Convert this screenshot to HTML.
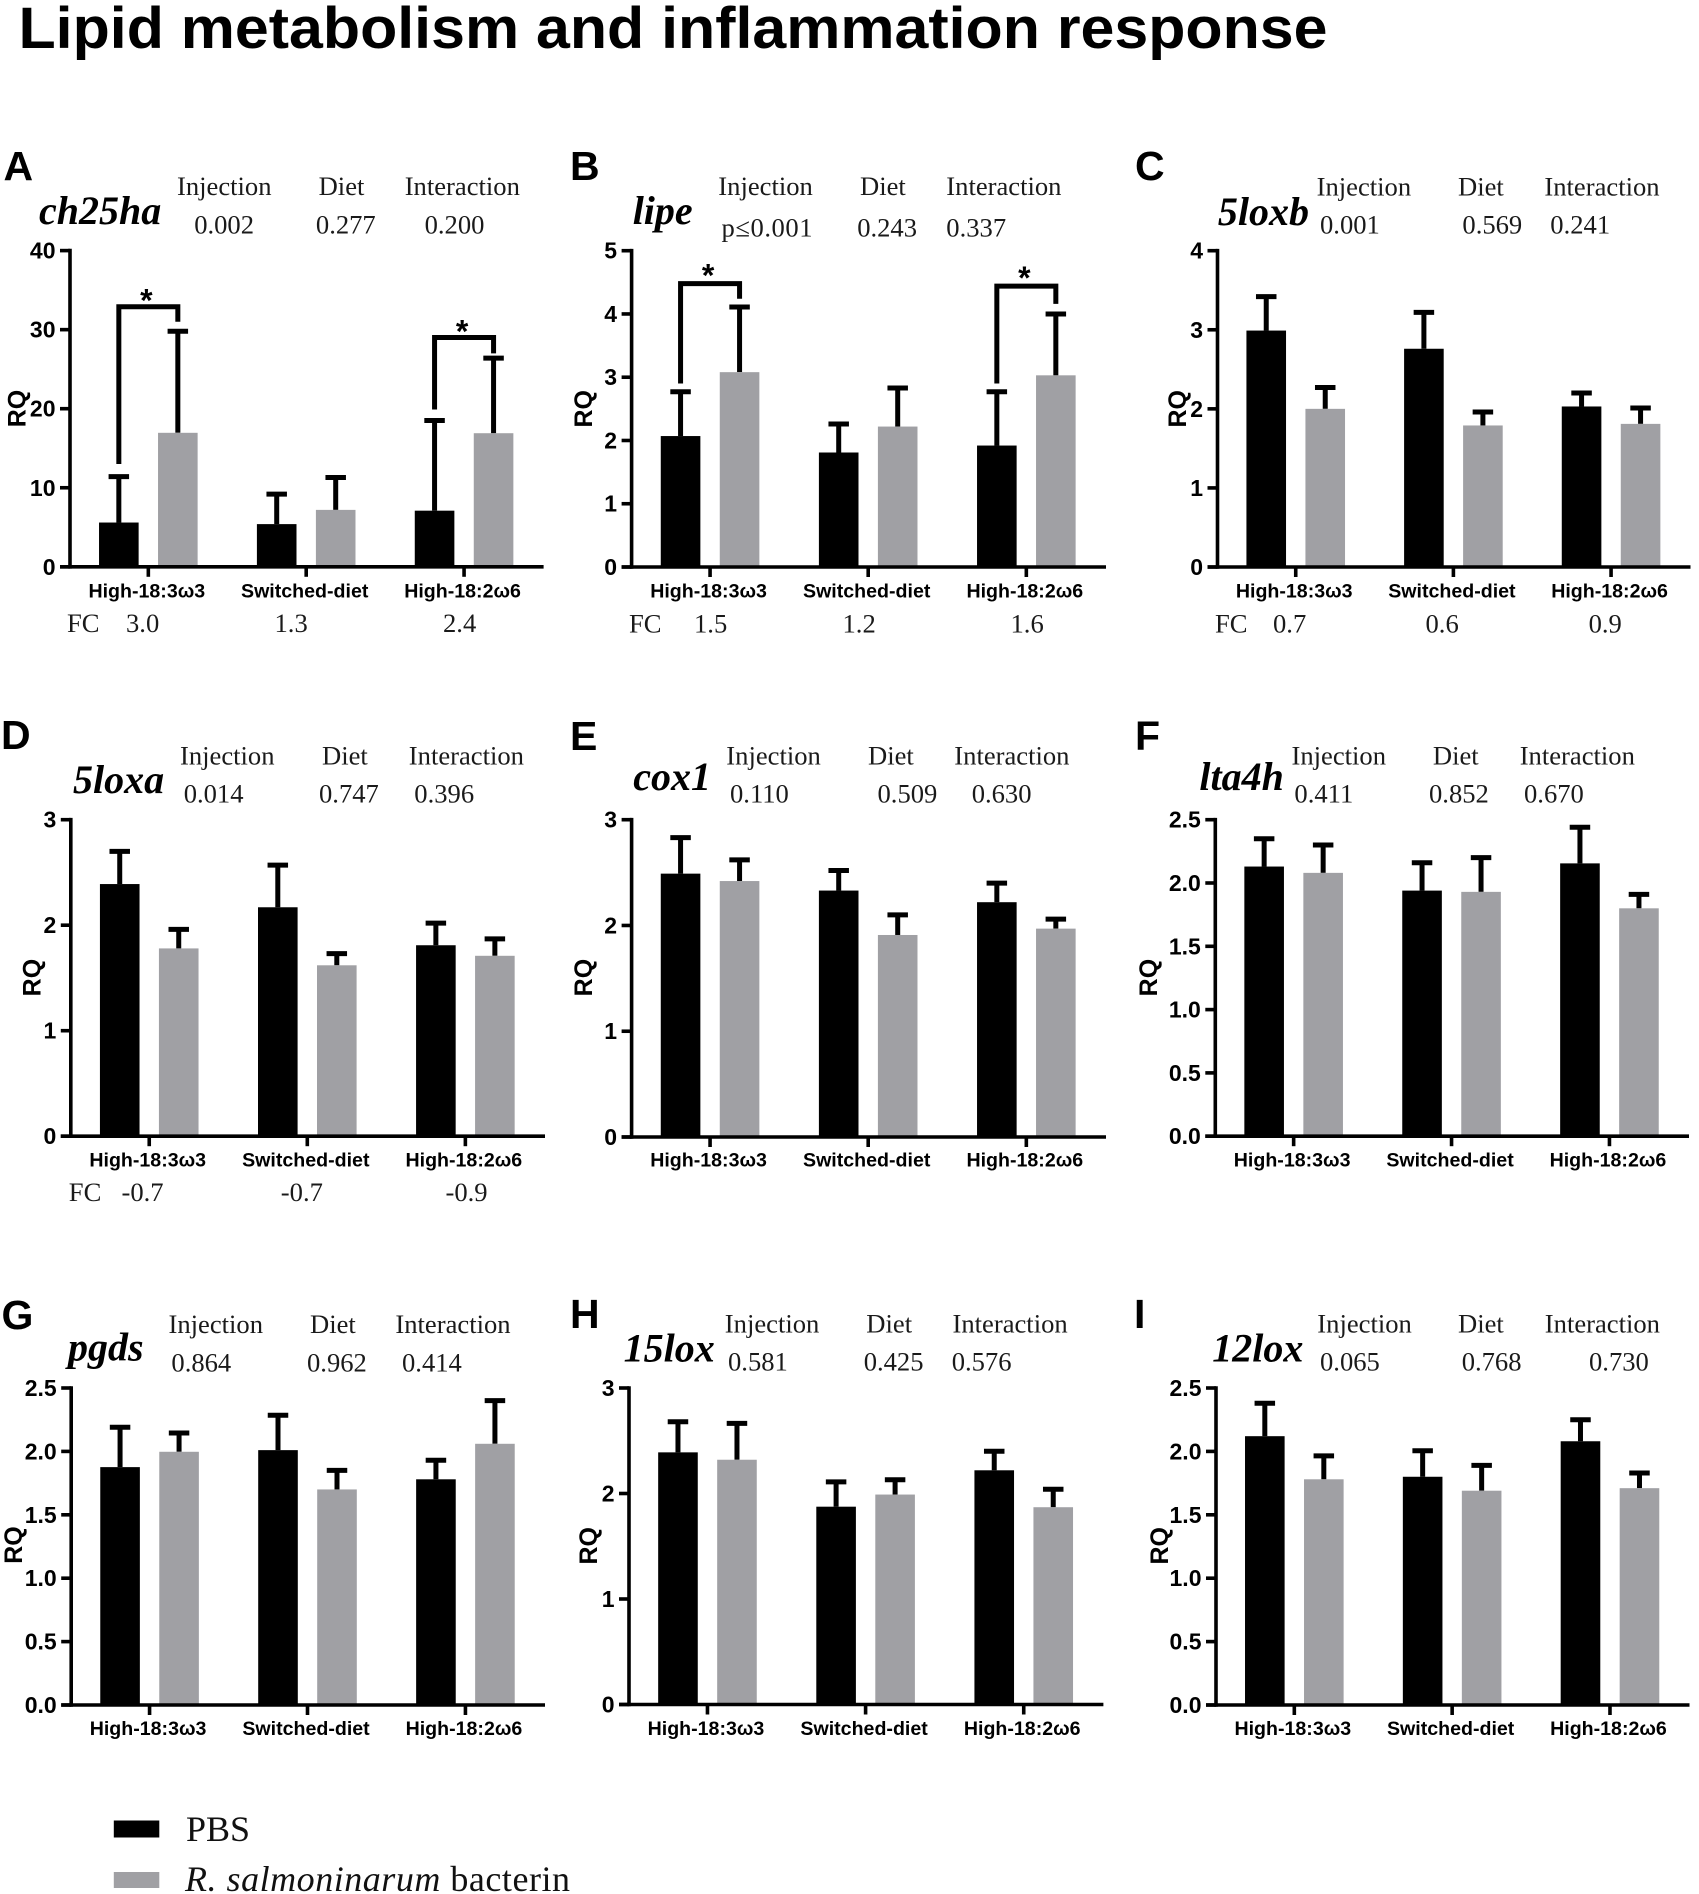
<!DOCTYPE html>
<html lang="en">
<head>
<meta charset="utf-8">
<title>Lipid metabolism and inflammation response</title>
<style>
  html, body { margin: 0; padding: 0; background: #fff; }
  svg { display: block; }
  .title { font: bold 58.5px "Liberation Sans", sans-serif; fill: #000; }
  .letter { font: bold 41px "Liberation Sans", sans-serif; fill: #000; }
  .gene { font: italic bold 40px "Liberation Serif", serif; fill: #000; }
  .stat { font: 26.6px "Liberation Serif", serif; fill: #1a1a1a; transform: translateX(-1px); }
  .tick { font: bold 23px "Liberation Sans", sans-serif; fill: #000; text-anchor: end; }
  .cat { font: bold 19.6px "Liberation Sans", "DejaVu Sans", sans-serif; fill: #000; text-anchor: middle; }
  .rq { font: bold 25px "Liberation Sans", sans-serif; fill: #000; text-anchor: middle; }
  .star { font: bold 32px "Liberation Sans", sans-serif; fill: #000; text-anchor: middle; }
  .legend { font: 36px "Liberation Serif", serif; fill: #111; }
</style>
</head>
<body>
<svg id="figure" xmlns="http://www.w3.org/2000/svg" width="1699" height="1894" viewBox="0 0 1699 1894">
  <rect width="1699" height="1894" fill="#fff"/>
  <text class="title" x="18.5" y="48" textLength="1309" lengthAdjust="spacingAndGlyphs">Lipid metabolism and inflammation response</text>

  <!-- Panel A -->
  <text class="letter" x="3.5" y="180">A</text>
  <text class="gene" x="39" y="224">ch25ha</text>
  <text class="stat" x="178" y="195">Injection</text>
  <text class="stat" x="319.6" y="195">Diet</text>
  <text class="stat" x="405.7" y="195">Interaction</text>
  <text class="stat" x="195.2" y="233.3">0.002</text>
  <text class="stat" x="316.9" y="233.3">0.277</text>
  <text class="stat" x="425.6" y="233.3">0.200</text>
  <text class="stat" x="68" y="632">FC</text>
  <text class="stat" x="127" y="632">3.0</text>
  <text class="stat" x="275.5" y="632">1.3</text>
  <text class="stat" x="444" y="632">2.4</text>

  <!-- Panel B -->
  <text class="letter" x="570" y="180">B</text>
  <text class="gene" x="632.7" y="224">lipe</text>
  <text class="stat" x="719.3" y="195">Injection</text>
  <text class="stat" x="861" y="195">Diet</text>
  <text class="stat" x="947.3" y="195">Interaction</text>
  <text class="stat" x="722.5" y="236.5" textLength="91">p≤0.001</text>
  <text class="stat" x="858.2" y="236.5">0.243</text>
  <text class="stat" x="947.3" y="236.5">0.337</text>
  <text class="stat" x="630" y="632.4">FC</text>
  <text class="stat" x="695" y="632.4">1.5</text>
  <text class="stat" x="843.5" y="632.4">1.2</text>
  <text class="stat" x="1011.5" y="632.4">1.6</text>

  <!-- Panel C -->
  <text class="letter" x="1135" y="180">C</text>
  <text class="gene" x="1217.9" y="224.8">5loxb</text>
  <text class="stat" x="1317.6" y="195.5">Injection</text>
  <text class="stat" x="1459" y="195.5">Diet</text>
  <text class="stat" x="1545.4" y="195.5">Interaction</text>
  <text class="stat" x="1321" y="233.4">0.001</text>
  <text class="stat" x="1463.4" y="233.4">0.569</text>
  <text class="stat" x="1551.3" y="233.4">0.241</text>
  <text class="stat" x="1216" y="632.4">FC</text>
  <text class="stat" x="1274" y="632.4">0.7</text>
  <text class="stat" x="1426.5" y="632.4">0.6</text>
  <text class="stat" x="1589.6" y="632.4">0.9</text>

  <!-- Panel D -->
  <text class="letter" x="1" y="749">D</text>
  <text class="gene" x="73" y="793">5loxa</text>
  <text class="stat" x="181" y="764.5">Injection</text>
  <text class="stat" x="323" y="764.5">Diet</text>
  <text class="stat" x="409.8" y="764.5">Interaction</text>
  <text class="stat" x="184.7" y="802.4">0.014</text>
  <text class="stat" x="320" y="802.4">0.747</text>
  <text class="stat" x="415.3" y="802.4">0.396</text>
  <text class="stat" x="69.8" y="1201">FC</text>
  <text class="stat" x="122.5" y="1201">-0.7</text>
  <text class="stat" x="281.8" y="1201">-0.7</text>
  <text class="stat" x="446.5" y="1201">-0.9</text>

  <!-- Panel E -->
  <text class="letter" x="570" y="750">E</text>
  <text class="gene" x="633.2" y="790">cox1</text>
  <text class="stat" x="727.3" y="764.5">Injection</text>
  <text class="stat" x="869" y="764.5">Diet</text>
  <text class="stat" x="955.3" y="764.5">Interaction</text>
  <text class="stat" x="731" y="802.4">0.110</text>
  <text class="stat" x="878.5" y="802.4">0.509</text>
  <text class="stat" x="972.7" y="802.4">0.630</text>

  <!-- Panel F -->
  <text class="letter" x="1135" y="750">F</text>
  <text class="gene" x="1199.4" y="790">lta4h</text>
  <text class="stat" x="1292.5" y="764.5">Injection</text>
  <text class="stat" x="1433.9" y="764.5">Diet</text>
  <text class="stat" x="1520.7" y="764.5">Interaction</text>
  <text class="stat" x="1295.4" y="802.4">0.411</text>
  <text class="stat" x="1430" y="802.4">0.852</text>
  <text class="stat" x="1525" y="802.4">0.670</text>

  <!-- Panel G -->
  <text class="letter" x="1.5" y="1329">G</text>
  <text class="gene" x="68" y="1360.4">pgds</text>
  <text class="stat" x="169.5" y="1333">Injection</text>
  <text class="stat" x="311" y="1333">Diet</text>
  <text class="stat" x="396.4" y="1333">Interaction</text>
  <text class="stat" x="172.4" y="1371.4">0.864</text>
  <text class="stat" x="308" y="1371.4">0.962</text>
  <text class="stat" x="403" y="1371.4">0.414</text>

  <!-- Panel H -->
  <text class="letter" x="570" y="1328">H</text>
  <text class="gene" x="623.6" y="1361.7">15lox</text>
  <text class="stat" x="725.8" y="1332.3">Injection</text>
  <text class="stat" x="867.3" y="1332.3">Diet</text>
  <text class="stat" x="953.5" y="1332.3">Interaction</text>
  <text class="stat" x="729" y="1370.7">0.581</text>
  <text class="stat" x="864.7" y="1370.7">0.425</text>
  <text class="stat" x="952.7" y="1370.7">0.576</text>

  <!-- Panel I -->
  <text class="letter" x="1134" y="1328">I</text>
  <text class="gene" x="1212.3" y="1361.7">12lox</text>
  <text class="stat" x="1318.3" y="1332.3">Injection</text>
  <text class="stat" x="1459" y="1332.3">Diet</text>
  <text class="stat" x="1545.8" y="1332.3">Interaction</text>
  <text class="stat" x="1321" y="1370.7">0.065</text>
  <text class="stat" x="1462.7" y="1370.7">0.768</text>
  <text class="stat" x="1590" y="1370.7">0.730</text>

  <!-- Legend -->
  <rect x="113.8" y="1820.5" width="45.5" height="17" fill="#000"/>
  <text class="legend" x="186" y="1841">PBS</text>
  <rect x="113.8" y="1872" width="45.5" height="16" fill="#a0a0a4"/>
  <text class="legend" x="185" y="1891" textLength="385"><tspan font-style="italic">R. salmoninarum</tspan> bacterin</text>
</svg>

<script>
const categories = ['High-18:3ω3', 'Switched-diet', 'High-18:2ω6'];

const ticksA = [0, 10, 20, 30, 40];
const ticksB = [0, 1, 2, 3, 4, 5];
const ticksC = [0, 1, 2, 3, 4];
const ticksD = [0, 1, 2, 3];
const ticksE = [0, 1, 2, 3];
const ticksF = [0, 0.5, 1.0, 1.5, 2.0, 2.5];
const ticksG = [0, 0.5, 1.0, 1.5, 2.0, 2.5];
const ticksH = [0, 1, 2, 3];
const ticksI = [0, 0.5, 1.0, 1.5, 2.0, 2.5];

const pbsA = [5.6, 5.4, 7.1];
const pbsErrA = [11.4, 9.2, 18.5];
const bacterinA = [16.95, 7.2, 16.9];
const bacterinErrA = [29.8, 11.3, 26.4];

const pbsB = [2.07, 1.81, 1.92];
const pbsErrB = [2.77, 2.26, 2.77];
const bacterinB = [3.08, 2.22, 3.03];
const bacterinErrB = [4.11, 2.83, 4.0];

const pbsC = [2.99, 2.76, 2.03];
const pbsErrC = [3.42, 3.22, 2.2];
const bacterinC = [2.0, 1.79, 1.81];
const bacterinErrC = [2.27, 1.96, 2.01];

const pbsD = [2.39, 2.17, 1.81];
const pbsErrD = [2.7, 2.57, 2.02];
const bacterinD = [1.78, 1.62, 1.71];
const bacterinErrD = [1.96, 1.73, 1.87];

const pbsE = [2.49, 2.33, 2.22];
const pbsErrE = [2.83, 2.52, 2.4];
const bacterinE = [2.42, 1.91, 1.97];
const bacterinErrE = [2.62, 2.1, 2.06];

const pbsF = [2.13, 1.94, 2.155];
const pbsErrF = [2.35, 2.16, 2.44];
const bacterinF = [2.08, 1.93, 1.8];
const bacterinErrF = [2.3, 2.2, 1.91];

const pbsG = [1.876, 2.01, 1.78];
const pbsErrG = [2.19, 2.285, 1.93];
const bacterinG = [1.997, 1.7, 2.06];
const bacterinErrG = [2.145, 1.85, 2.4];

const pbsH = [2.39, 1.875, 2.22];
const pbsErrH = [2.68, 2.11, 2.4];
const bacterinH = [2.32, 1.99, 1.87];
const bacterinErrH = [2.665, 2.13, 2.04];

const pbsI = [2.12, 1.8, 2.08];
const pbsErrI = [2.38, 2.005, 2.25];
const bacterinI = [1.78, 1.69, 1.71];
const bacterinErrI = [1.965, 1.89, 1.83];

// Significance brackets: group index, lower end (left leg), bracket top, lower end (right leg), in RQ units
const bracketGroupsA = [0, 2];
const bracketLowA = [13, 19.9];
const bracketHighA = [32.9, 29];
const bracketRightA = [31, 27];
const bracketGroupsB = [0, 2];
const bracketLowB = [2.9, 2.9];
const bracketHighB = [4.48, 4.44];
const bracketRightB = [4.24, 4.16];

const NS = 'http://www.w3.org/2000/svg';
const figure = document.getElementById('figure');
const GRAY = '#a0a0a4';
const AXIS_W = 3.6;
const ERR_W = 5;
const BAR_W = 39.6;
const BAR_OFFSET = 29.5;
const CENTER_SHIFT = -0.6;
const CAP_W = 20.5;

function make(tag, attrs, parent) {
  const el = document.createElementNS(NS, tag);
  for (const k in attrs) el.setAttribute(k, attrs[k]);
  parent.appendChild(el);
  return el;
}

function drawPanel(p) {
  const group = make('g', {}, figure);
  
  

  const yMax = p.ticks[p.ticks.length - 1];
  const yOf = function (v) { return p.yBase - (v / yMax) * (p.yBase - p.yTop); };
  const step = (p.xEnd - p.x0) / categories.length;
  const xOf = function (i) { return p.x0 + (i + 0.5) * step + CENTER_SHIFT; };

  const series = [
    { name: 'pbs', off: -BAR_OFFSET, fill: '#000', vals: p.pbs, errs: p.pbsErr },
    { name: 'bacterin', off: BAR_OFFSET, fill: GRAY, vals: p.bacterin, errs: p.bacterinErr }
  ];

  series.forEach(function (s) {
    s.vals.forEach(function (v, i) {
      const cx = xOf(i) + s.off;
      const top = yOf(v);
      const errTop = yOf(s.errs[i]);

      const stem = make('line', { x1: cx, x2: cx, y1: top, y2: errTop, stroke: '#000', 'stroke-width': ERR_W }, group);
      
      

      const cap = make('line', { x1: cx - CAP_W / 2, x2: cx + CAP_W / 2, y1: errTop, y2: errTop, stroke: '#000', 'stroke-width': ERR_W }, group);
      
      

      const bar = make('rect', { x: cx - BAR_W / 2, y: top, width: BAR_W, height: p.yBase - top, fill: s.fill }, group);
      
      
    });
  });

  const yAxis = make('line', { x1: p.x0, x2: p.x0, y1: p.yTop - AXIS_W / 2, y2: p.yBase + AXIS_W / 2, stroke: '#000', 'stroke-width': AXIS_W }, group);
  
  

  const xAxis = make('line', { x1: p.x0 - 10, x2: p.xEnd, y1: p.yBase, y2: p.yBase, stroke: '#000', 'stroke-width': AXIS_W }, group);
  
  

  p.ticks.forEach(function (t) {
    const y = yOf(t);
    const mark = make('line', { x1: p.x0 - 10, x2: p.x0, y1: y, y2: y, stroke: '#000', 'stroke-width': AXIS_W }, group);
    
    

    const label = make('text', { class: 'tick', x: p.x0 - 14.5, y: y + 8 }, group);
    label.textContent = p.decimals ? t.toFixed(p.decimals) : String(t);
    
    
  });

  categories.forEach(function (c, i) {
    const x = xOf(i);
    const mark = make('line', { x1: x, x2: x, y1: p.yBase, y2: p.yBase + 10, stroke: '#000', 'stroke-width': AXIS_W }, group);
    
    

    const label = make('text', { class: 'cat', x: x - 1.5, y: p.catY }, group);
    label.textContent = c;
    
    
  });

  const rq = make('text', { class: 'rq', transform: 'translate(' + p.rqX + ',' + p.rqY + ') rotate(-90)' }, group);
  rq.textContent = 'RQ';
  
  

  if (p.bracketGroups) {
    p.bracketGroups.forEach(function (g, k) {
      const xl = xOf(g) - BAR_OFFSET;
      const xr = xOf(g) + BAR_OFFSET;
      const yHigh = yOf(p.bracketHigh[k]);
      const d = 'M' + xl + ' ' + yOf(p.bracketLow[k]) + ' V' + yHigh + ' H' + xr + ' V' + yOf(p.bracketRight[k]);
      const path = make('path', { d: d, fill: 'none', stroke: '#000', 'stroke-width': ERR_W }, group);
      
      

      const star = make('text', { class: 'star', x: xOf(g) - 2, y: yHigh + p.starGap }, group);
      star.textContent = '*';
      
      
    });
  }
}

const panels = [
  { id: 'a', x0: 70, xEnd: 543.6, yTop: 250.6, yBase: 566.8, catY: 597.6, rqX: 25.5, rqY: 408.5, ticks: ticksA, pbs: pbsA, pbsErr: pbsErrA, bacterin: bacterinA, bacterinErr: bacterinErrA, bracketGroups: bracketGroupsA, bracketLow: bracketLowA, bracketHigh: bracketHighA, bracketRight: bracketRightA, starGap: 5 },
  { id: 'b', x0: 631.6, xEnd: 1106, yTop: 250.7, yBase: 567, catY: 597.6, rqX: 592, rqY: 408.8, ticks: ticksB, pbs: pbsB, pbsErr: pbsErrB, bacterin: bacterinB, bacterinErr: bacterinErrB, bracketGroups: bracketGroupsB, bracketLow: bracketLowB, bracketHigh: bracketHighB, bracketRight: bracketRightB, starGap: 3 },
  { id: 'c', x0: 1217.5, xEnd: 1690.5, yTop: 250.7, yBase: 567, catY: 597.6, rqX: 1186, rqY: 408.8, ticks: ticksC, pbs: pbsC, pbsErr: pbsErrC, bacterin: bacterinC, bacterinErr: bacterinErrC },
  { id: 'd', x0: 70.8, xEnd: 545, yTop: 819.7, yBase: 1136.2, catY: 1166.4, rqX: 40.5, rqY: 977.6, ticks: ticksD, pbs: pbsD, pbsErr: pbsErrD, bacterin: bacterinD, bacterinErr: bacterinErrD },
  { id: 'e', x0: 631.6, xEnd: 1106, yTop: 819.7, yBase: 1137, catY: 1166.4, rqX: 592, rqY: 977.6, ticks: ticksE, pbs: pbsE, pbsErr: pbsErrE, bacterin: bacterinE, bacterinErr: bacterinErrE },
  { id: 'f', x0: 1215.3, xEnd: 1689, yTop: 819.7, yBase: 1136.2, catY: 1166.4, rqX: 1157, rqY: 977.6, decimals: 1, ticks: ticksF, pbs: pbsF, pbsErr: pbsErrF, bacterin: bacterinF, bacterinErr: bacterinErrF },
  { id: 'g', x0: 71.2, xEnd: 545, yTop: 1388, yBase: 1705, catY: 1735, rqX: 22, rqY: 1545, decimals: 1, ticks: ticksG, pbs: pbsG, pbsErr: pbsErrG, bacterin: bacterinG, bacterinErr: bacterinErrG },
  { id: 'h', x0: 629, xEnd: 1103.4, yTop: 1388, yBase: 1704.5, catY: 1735, rqX: 597, rqY: 1545.8, ticks: ticksH, pbs: pbsH, pbsErr: pbsErrH, bacterin: bacterinH, bacterinErr: bacterinErrH },
  { id: 'i', x0: 1216, xEnd: 1689.5, yTop: 1388, yBase: 1705, catY: 1735, rqX: 1168, rqY: 1545.8, decimals: 1, ticks: ticksI, pbs: pbsI, pbsErr: pbsErrI, bacterin: bacterinI, bacterinErr: bacterinErrI }
];

panels.forEach(drawPanel);
</script>
</body>
</html>
